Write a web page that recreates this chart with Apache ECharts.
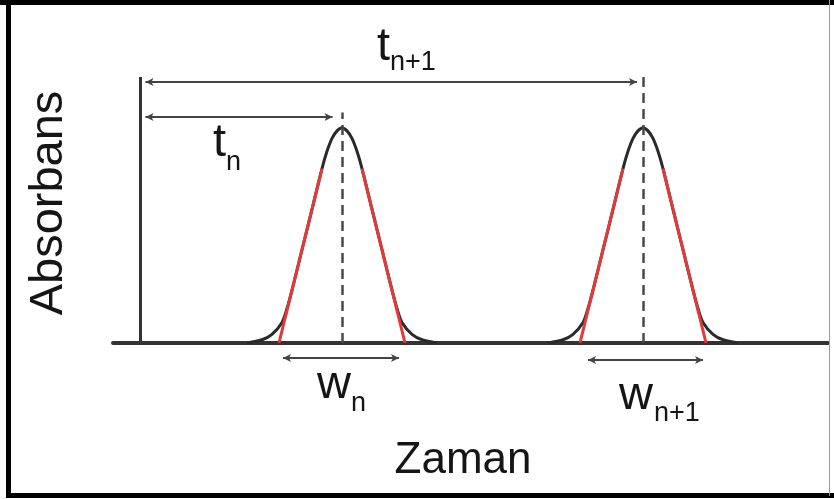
<!DOCTYPE html>
<html>
<head>
<meta charset="utf-8">
<script src="https://cdn.jsdelivr.net/npm/echarts@6/dist/echarts.min.js"></script>
<style>
  html, body { margin: 0; padding: 0; background: #fff; }
  #chart { width: 834px; height: 499px; }
</style>
</head>
<body>
<div id="chart"></div>
<script>
// Chromatogram schematic: two peaks, tangent widths and retention times.

// Peak n: time vs. absorbance
const peakTimes1 = [10.7, 12.2, 13.2, 14.2, 14.7, 15.2, 16.2, 17.2, 18.2, 18.7, 19.2, 19.7, 20.2, 20.7, 21.2, 21.7, 22.2, 23.2, 24.2, 25.2, 25.7, 26.2, 27.2, 28.2, 29.7];
const peakAbs1   = [0, 0.015, 0.04, 0.095, 0.16, 0.245, 0.433, 0.62, 0.81, 0.89, 0.95, 0.985, 1.0, 0.985, 0.95, 0.89, 0.81, 0.62, 0.433, 0.245, 0.16, 0.095, 0.04, 0.015, 0];

// Peak n+1: time vs. absorbance
const peakTimes2 = [40.8, 42.3, 43.3, 44.3, 44.8, 45.3, 46.3, 47.3, 48.3, 48.8, 49.3, 49.8, 50.3, 50.8, 51.3, 51.8, 52.3, 53.3, 54.3, 55.3, 55.8, 56.3, 57.3, 58.3, 59.8];
const peakAbs2   = [0, 0.015, 0.04, 0.095, 0.16, 0.245, 0.433, 0.62, 0.81, 0.89, 0.95, 0.985, 1.0, 0.985, 0.95, 0.89, 0.81, 0.62, 0.433, 0.245, 0.16, 0.095, 0.04, 0.015, 0];

// Tangent lines on the flanks: [time, absorbance] end points
const tangents = [
  [[13.9, 0], [18.2, 0.81]],
  [[22.2, 0.81], [26.5, 0]],
  [[44.0, 0], [48.3, 0.81]],
  [[52.3, 0.81], [56.6, 0]]
];

// Retention times (peak maxima) and the tops of their dashed markers
const retentionTimes = [20.2, 50.3];
const markerTops = [1.07, 1.235];

// Dimension arrows: [fromTime, toTime, level]
const arrowTn   = [0.55, 19.25, 1.05];
const arrowTn1  = [0.55, 49.7, 1.212];
const arrowWn   = [14.3, 25.9, -0.07];
const arrowWn1  = [44.8, 56.3, -0.079];

// Absorbance axis extent
const yAxisTop = 1.235;

const chart = echarts.init(document.getElementById('chart'), null, { renderer: 'canvas' });

const FONT = '"Liberation Sans", Arial, Helvetica, sans-serif';
const INK = '#151515';

function zip(xs, ys) { return xs.map((x, i) => [x, ys[i]]); }

function arrowLine(a) {
  return [{ coord: [a[0], a[2]] }, { coord: [a[1], a[2]] }];
}

const series = [
  {
    type: 'line', name: 'peak n', data: zip(peakTimes1, peakAbs1),
    smooth: 0.3, showSymbol: false, z: 3,
    lineStyle: { color: '#2a2a2a', width: 3 }
  },
  {
    type: 'line', name: 'peak n+1', data: zip(peakTimes2, peakAbs2),
    smooth: 0.3, showSymbol: false, z: 3,
    lineStyle: { color: '#2a2a2a', width: 3 }
  }
];

tangents.forEach((seg, i) => {
  series.push({
    type: 'line', name: 'tangent ' + i, data: seg,
    showSymbol: false, z: 4,
    lineStyle: { color: '#e23a3a', width: 3 }
  });
});

// Axis line, dashed retention markers and dimension arrows
series.push({
  type: 'line', name: 'guides', data: [], z: 5,
  markLine: {
    silent: true,
    animation: false,
    label: { show: false },
    emphasis: { disabled: true },
    data: [
      [
        { coord: [0, 0], symbol: 'none', lineStyle: { color: '#333', width: 3, type: 'solid' } },
        { coord: [0, yAxisTop], symbol: 'none' }
      ],
      ...retentionTimes.map((t, i) => [
        { coord: [t, 0], symbol: 'none', lineStyle: { color: '#4a4a4a', width: 2.5, type: [10, 6] } },
        { coord: [t, markerTops[i]], symbol: 'none' }
      ]),
      ...[arrowTn, arrowTn1, arrowWn, arrowWn1].map(a => {
        const seg = arrowLine(a);
        seg[0].symbol = 'arrow';
        seg[1].symbol = 'arrow';
        seg[0].symbolSize = [6, 8];
        seg[1].symbolSize = [6, 8];
        seg[0].lineStyle = { color: '#444', width: 1.8, type: 'solid' };
        return seg;
      })
    ]
  }
});

function label(text, x, y, size, extra) {
  return Object.assign({
    type: 'text', x: x, y: y, z: 10,
    style: {
      text: text, fontSize: size, fontFamily: FONT, fill: INK,
      align: 'left', verticalAlign: 'middle'
    }
  }, extra || {});
}

const option = {
  backgroundColor: '#fff',
  animation: false,
  grid: { left: 113, right: 6, top: 20, bottom: 5.3 },
  xAxis: {
    type: 'value', min: -2.7, max: 68.8,
    axisLine: { show: true, onZero: true, lineStyle: { color: '#333', width: 4 } },
    axisTick: { show: false }, axisLabel: { show: false }, splitLine: { show: false }
  },
  yAxis: {
    type: 'value', min: -0.7, max: 1.5, show: false,
    splitLine: { show: false }
  },
  series: series,
  graphic: [
    // frame
    { type: 'rect', shape: { x: 0, y: 0, width: 834, height: 5 }, style: { fill: '#000' }, z: 20 },
    { type: 'rect', shape: { x: 6, y: 0, width: 5, height: 498 }, style: { fill: '#000' }, z: 20 },
    { type: 'rect', shape: { x: 6, y: 493, width: 828, height: 5 }, style: { fill: '#000' }, z: 20 },
    { type: 'line', shape: { x1: 829.5, y1: 0, x2: 829.5, y2: 496 }, style: { stroke: '#9a9a9a', lineWidth: 1 }, z: 20 },

    // texts
    label('t', 377, 47, 47),
    label('n+1', 390, 62.5, 27),
    label('t', 213, 143, 47),
    label('n', 226, 162.6, 27),
    label('w', 317, 384.7, 47),
    label('n', 351, 403.6, 27),
    label('w', 619, 395.7, 47),
    label('n+1', 654, 413.6, 27),
    {
      type: 'text', x: 463, y: 461, z: 10,
      style: { text: 'Zaman', fontSize: 44, fontFamily: FONT, fill: INK, align: 'center', verticalAlign: 'middle' }
    },
    {
      type: 'text', x: 49, y: 203, rotation: Math.PI / 2, z: 10,
      style: { text: 'Absorbans', fontSize: 47, fontFamily: FONT, fill: INK, align: 'center', verticalAlign: 'middle' }
    }
  ]
};

chart.setOption(option);
</script>
</body>
</html>
